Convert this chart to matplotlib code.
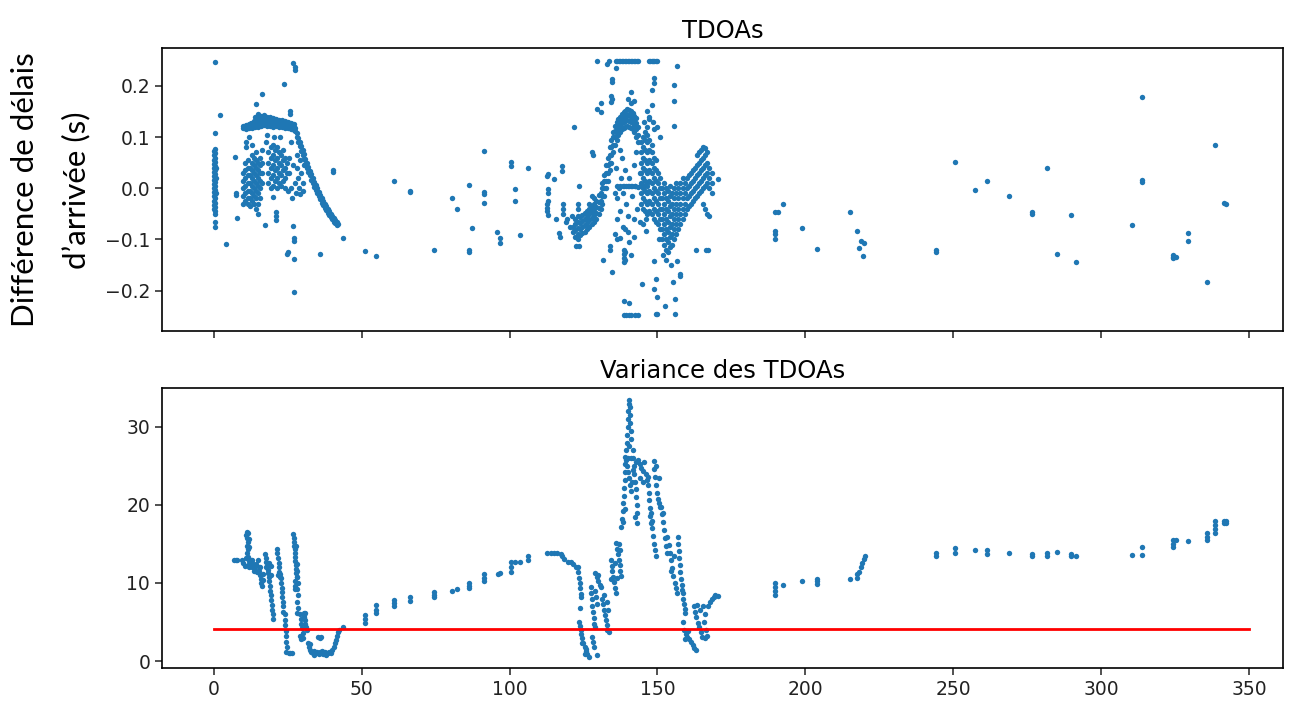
import matplotlib
matplotlib.use("Agg")
import matplotlib.pyplot as plt
import numpy as np

# ---------------- data ----------------
titles = ["TDOAs", "Variance des TDOAs"]
ylabel_top = "Différence de délais\nd’arrivée (s)"
x_ticks = [0, 50, 100, 150, 200, 250, 300, 350]
top_yticks = [-0.2, -0.1, 0.0, 0.1, 0.2]
bot_yticks = [0, 10, 20, 30]
threshold = 4.1
threshold_span = [0, 350]

# TDOA columns: (x, [y values])
tdoa_cols_a = [
    (0.4, [0.247, 0.107, 0.076, 0.068, 0.060, 0.052, 0.044, 0.036, 0.028, 0.020, 0.012, 0.004,
           -0.004, -0.012, -0.020, -0.028, -0.036, -0.044, -0.050, -0.066, -0.076]),
    (0.1, [0.072, 0.064, 0.056, 0.048, 0.040, 0.032, 0.024, 0.016, 0.008, 0.000, -0.008, -0.016,
           -0.024, -0.032, -0.040]),
    (0.8, [0.040, 0.020, -0.010]),
    (2.1, [0.143]), (4.1, [-0.109]), (7.2, [0.061]), (7.4, [-0.014, -0.010]), (8.0, [-0.059]),
    (10.0, [-0.030, -0.015, 0.000, 0.015, 0.030, 0.118, 0.122]),
    (10.5, [0.120]),
    (10.7, [-0.025, -0.010, 0.005, 0.020, 0.035, 0.050]),
    (11.0, [0.080, 0.090, 0.116, 0.124]),
    (11.4, [-0.030, -0.020, -0.005, 0.010, 0.025, 0.040, 0.055]),
    (11.5, [0.120]),
    (12.0, [0.100, 0.117, 0.125]),
    (12.1, [-0.035, -0.020, -0.005, 0.010, 0.025, 0.040]),
    (12.5, [0.120, 0.128]),
    (12.8, [-0.025, -0.010, 0.005, 0.020, 0.035, 0.050, 0.065]),
    (13.0, [0.085, 0.118, 0.127]),
    (13.5, [-0.030, -0.015, 0.000, 0.015, 0.030, 0.045, 0.060, 0.122, 0.131]),
    (14.0, [0.120, 0.130, 0.140]),
    (14.2, [-0.040, -0.020, -0.005, 0.010, 0.025, 0.040, 0.055, 0.070]),
    (14.3, [0.165]),
    (14.5, [0.125, 0.135]),
    (14.9, [-0.050, -0.030, -0.010, 0.005, 0.020, 0.035, 0.050]),
    (15.0, [0.120, 0.130, 0.145]),
    (15.5, [0.125, 0.138]),
    (15.6, [-0.020, 0.000, 0.015, 0.030, 0.045, 0.060]),
    (16.0, [0.122, 0.132, 0.142]),
    (16.2, [0.184]),
    (16.3, [0.010, 0.030, 0.050, 0.075]),
    (16.5, [0.127, 0.137]),
    (17.0, [0.123, 0.133, 0.143]),
    (17.3, [-0.072]),
    (17.5, [0.090, 0.128, 0.138]),
    (18.0, [0.105, 0.122, 0.132, 0.140]),
    (18.5, [0.010, 0.030, 0.050, 0.070, 0.127, 0.137]),
    (19.0, [0.121, 0.131, 0.139]),
    (19.2, [0.000, 0.020, 0.040, 0.060, 0.080]),
    (19.5, [0.126, 0.134]),
    (19.9, [0.005, 0.025, 0.045, 0.065, 0.085]),
    (20.0, [0.120, 0.130, 0.138]),
    (20.1, [-0.018]),
    (20.5, [0.100, 0.125, 0.133]),
    (20.6, [0.015, 0.035, 0.055, 0.075]),
    (21.0, [0.121, 0.129, 0.136]),
    (21.2, [-0.047, -0.055, -0.063]),
    (21.3, [0.000, 0.020, 0.040, 0.060, 0.080]),
    (21.5, [0.124, 0.132]),
    (22.0, [0.010, 0.030, 0.050, 0.070, 0.120, 0.128, 0.134]),
    (22.5, [0.100, 0.123, 0.131]),
    (22.7, [0.005, 0.025, 0.045, 0.065]),
    (23.0, [0.119, 0.127, 0.133]),
    (23.4, [0.015, 0.035, 0.055, 0.075]),
    (23.5, [0.122, 0.130]),
    (23.7, [0.204]),
    (24.0, [0.118, 0.126, 0.132]),
    (24.1, [0.000, 0.020, 0.040, 0.060]),
    (24.5, [0.121, 0.128]),
    (24.6, [-0.128]),
    (24.8, [0.030, 0.050]),
    (25.0, [-0.005, 0.117, 0.125, 0.130]),
    (25.2, [-0.125]),
    (25.3, [0.060]),
    (25.5, [0.030, 0.120, 0.127]),
    (25.7, [0.151, 0.146]),
    (26.0, [0.000, 0.090, 0.116, 0.123, 0.128]),
    (26.3, [-0.020]),
    (26.5, [0.119, 0.125]),
    (26.8, [0.045]),
    (26.9, [0.245, -0.074]),
    (27.0, [0.113, 0.120, 0.126]),
    (27.2, [-0.098, -0.103, -0.139, -0.203]),
    (27.4, [0.236]), (27.5, [0.232, 0.010, 0.111, 0.117]),
    (27.8, [-0.010]),
    (28.0, [0.108, 0.100]), (28.2, [0.040]), (28.3, [0.065]), (28.5, [0.098, 0.090, 0.020]),
    (28.8, [0.000]), (29.0, [0.090, 0.082, 0.055]), (29.2, [-0.012]), (29.5, [0.082, 0.072, 0.030]),
    (30.0, [0.075, 0.065, 0.010]), (30.3, [-0.005]), (30.5, [0.066, 0.057, 0.045]),
    (31.0, [0.058, 0.048]), (31.5, [0.050, 0.040]), (32.0, [0.042, 0.032]),
    (32.5, [0.034, 0.025]), (33.0, [0.027, 0.017]), (33.5, [0.020, 0.010]),
    (34.0, [0.013, 0.003]), (34.5, [0.006, -0.004]), (35.0, [0.000, -0.010]),
    (35.5, [-0.007, -0.016]), (35.8, [-0.129]), (36.0, [-0.013, -0.022]),
    (36.5, [-0.019, -0.028]), (37.0, [-0.025, -0.033]), (37.5, [-0.030, -0.038]),
    (38.0, [-0.035, -0.043]), (38.5, [-0.040, -0.048]), (39.0, [-0.045, -0.053]),
    (39.5, [-0.050, -0.057]), (40.0, [-0.054, -0.061]), (40.3, [0.035, 0.032]),
    (40.5, [-0.058, -0.065]), (41.0, [-0.062, -0.068]), (41.5, [-0.066, -0.071]),
    (42.0, [-0.070]), (43.7, [-0.098]),
]

tdoa_sparse_mid = [
    (51.0, [-0.123]), (54.7, [-0.132]), (60.9, [0.014]), (66.2, [-0.005, -0.008]),
    (74.3, [-0.120]), (80.6, [-0.019]), (82.2, [-0.040]), (86.4, [0.006, -0.120, -0.124]),
    (87.4, [-0.077]), (91.5, [0.073, -0.007, -0.012, -0.028]), (95.8, [-0.085]),
    (96.8, [-0.098, -0.107]), (100.5, [0.051, 0.044]), (102.0, [-0.001, -0.025]),
    (103.6, [-0.092]), (106.4, [0.039]),
]

tdoa_cols_b = [
    (112.8, [0.024, -0.030, -0.038, -0.045]), (113.0, [0.027, -0.002, -0.010, -0.024, -0.053]),
    (115.0, [0.018]), (115.6, [-0.061]), (116.8, [-0.087]), (117.0, [-0.095]),
    (117.9, [0.043, 0.034]), (118.0, [-0.030, -0.040, -0.050]), (119.0, [-0.065]),
    (119.5, [-0.060]), (120.5, [-0.075]), (121.0, [-0.055]),
    (121.5, [-0.085, -0.075]), (121.8, [0.120]),
    (122.2, [-0.095, -0.082, -0.070, -0.060]), (122.5, [-0.113]),
    (123.0, [-0.100, -0.090, -0.078, -0.066, -0.055, -0.030, -0.040]),
    (123.5, [0.005, -0.113]),
    (123.8, [-0.092, -0.080, -0.068, -0.056]),
    (124.6, [-0.088, -0.076, -0.064, -0.052]),
    (125.4, [-0.085, -0.072, -0.060, -0.048]),
    (126.2, [-0.080, -0.068, -0.056, -0.044]),
    (127.0, [-0.075, -0.063, -0.051, -0.040, -0.030]),
    (127.8, [-0.070, -0.058, -0.046, -0.034]),
    (128.0, [-0.015, 0.070]), (128.2, [0.065]),
    (128.6, [-0.065, -0.053, -0.041, -0.030, -0.020]),
    (129.4, [-0.060, -0.048, -0.036, -0.024]),
    (129.7, [0.248, 0.154]), (130.2, [-0.050, -0.038, -0.026, -0.014]),
    (130.8, [-0.040, -0.025, -0.010, 0.148, 0.167]),
    (131.4, [-0.030, -0.015, 0.000, 0.010]), (131.7, [-0.141]),
    (132.0, [-0.015, 0.000, 0.015, 0.025]), (132.6, [0.000, 0.015, 0.030, 0.045]),
    (132.8, [0.242]), (133.2, [0.015, 0.030, 0.045, 0.060]), (133.6, [0.248]),
    (133.8, [0.035, 0.050, 0.065, 0.080, -0.113, -0.120]),
    (134.2, [0.168, 0.180]),
    (134.4, [0.050, 0.065, 0.080, 0.095]),
    (134.8, [0.213, 0.208, 0.174, -0.164]),
    (135.0, [0.070, 0.085, 0.100, 0.110]),
    (135.5, [-0.010, -0.090]), (135.6, [0.085, 0.100, 0.112, 0.122]),
    (135.9, [0.248, 0.234]), (136.0, [0.040]),
    (136.2, [0.095, 0.108, 0.120, 0.130, -0.060]),
    (136.5, [0.248, -0.020, 0.004, -0.100]),
    (136.8, [0.105, 0.118, 0.128, 0.136]),
    (137.0, [0.248, 0.000]), (137.2, [-0.045]),
    (137.4, [0.110, 0.122, 0.132, 0.140]), (137.5, [0.248, 0.075, 0.004, -0.098]),
    (137.8, [0.020]), (138.0, [0.248, 0.115, 0.127, 0.137, 0.145, 0.060]),
    (138.4, [-0.010]), (138.5, [0.248, 0.004, -0.075]),
    (138.6, [0.118, 0.130, 0.140, 0.148]),
    (138.7, [-0.120, -0.128, -0.136, -0.145, -0.220, -0.248]),
    (138.8, [0.005]), (139.0, [0.248, -0.080]),
    (139.2, [0.120, 0.132, 0.142, 0.150, 0.035, -0.124, -0.140]),
    (139.5, [0.248, -0.030, 0.004, -0.248]),
    (139.8, [0.122, 0.134, 0.144, 0.155]),
    (140.0, [0.248, 0.175, 0.005, -0.055, -0.085]),
    (140.3, [-0.248]), (140.4, [0.120, 0.132, 0.143, 0.152, -0.106, -0.224]),
    (140.5, [0.248, 0.020, 0.004]),
    (141.0, [0.248, 0.118, 0.130, 0.140, 0.150, 0.167, 0.188, 0.004, -0.130]),
    (141.2, [-0.248]), (141.5, [0.248, -0.015, 0.004]),
    (141.6, [0.115, 0.127, 0.138, 0.147]),
    (142.0, [0.248, 0.170, 0.045, -0.060, -0.095]),
    (142.2, [0.110, 0.122, 0.133, 0.142]), (142.3, [0.005]),
    (142.5, [0.248, 0.004, -0.248]),
    (142.8, [0.100, 0.115, 0.128, 0.138, 0.070]),
    (143.0, [0.248, -0.040]), (143.3, [-0.248]),
    (143.4, [0.090, 0.105, 0.120]), (143.5, [0.003]), (143.6, [0.248]),
    (144.0, [0.030, -0.065]),
    (144.5, [-0.030, -0.010, 0.010, 0.030, 0.050, 0.070, 0.090, 0.004]),
    (144.9, [-0.188]), (145.0, [-0.070]),
    (145.2, [-0.040, -0.020, 0.000, 0.020, 0.040, 0.060, 0.080, 0.100]),
    (145.5, [0.130, 0.004]),
    (145.9, [-0.045, -0.025, -0.005, 0.015, 0.035, 0.055, 0.075, 0.095, 0.110]),
    (146.0, [-0.060]), (146.3, [-0.083]),
    (146.5, [0.004]),
    (146.6, [-0.050, -0.030, -0.010, 0.010, 0.030, 0.050, 0.070, 0.090, 0.105, 0.120, 0.150]),
    (147.0, [0.248, 0.140]), (147.2, [0.135]),
    (147.3, [-0.045, -0.025, -0.005, 0.015, 0.035, 0.055, 0.075, 0.095]),
    (147.5, [0.248]),
    (148.0, [0.248, -0.050, -0.030, -0.010, 0.010, 0.030, 0.050, 0.070, 0.085]),
    (148.2, [0.163, 0.192]), (148.5, [0.248, 0.130]),
    (148.7, [-0.060, -0.040, -0.020, 0.000, 0.020, 0.040, 0.060, 0.215, 0.205, -0.197, -0.142]),
    (149.0, [0.248, 0.115]),
    (149.4, [-0.065, -0.045, -0.025, -0.005, 0.015, 0.035, 0.055, -0.246, -0.178]),
    (149.5, [0.248]),
    (150.0, [0.248, 0.120, -0.246, -0.213]),
    (150.1, [-0.070, -0.050, -0.030, -0.010, 0.010, 0.030]),
    (150.5, [-0.100]),
    (150.8, [-0.080, -0.060, -0.040, -0.020, 0.000, 0.020]),
    (151.0, [0.100]),
    (151.5, [-0.100, -0.080, -0.060, -0.040, -0.020, 0.000]),
    (152.0, [-0.130]),
    (152.2, [-0.110, -0.090, -0.070, -0.050, -0.030, -0.010, 0.010]),
    (152.7, [-0.230]),
    (152.9, [-0.120, -0.100, -0.080, -0.060, -0.040, -0.020, 0.000]),
    (153.0, [-0.140]),
    (153.6, [-0.125, -0.105, -0.085, -0.065, -0.045, -0.025, -0.005]),
    (154.3, [-0.115, -0.095, -0.075, -0.055, -0.035, -0.015, 0.005]),
    (154.5, [-0.150]),
    (155.0, [-0.110, -0.090, -0.070, -0.050, -0.030, -0.010]),
    (155.4, [-0.184]), (155.5, [0.201, 0.171, 0.122]),
    (155.7, [-0.100, -0.080, -0.060, -0.040, -0.020, 0.000]),
    (156.0, [-0.217, -0.246]),
    (156.4, [-0.090, -0.070, -0.050, -0.030, -0.010, 0.010]),
    (156.7, [0.239, -0.142]),
    (157.1, [-0.080, -0.060, -0.040, -0.020, 0.000]),
    (157.8, [-0.070, -0.050, -0.030, -0.010, 0.010, -0.172, -0.168]),
    (158.5, [-0.060, -0.040, -0.020, 0.000, 0.020]),
    (159.2, [-0.050, -0.030, -0.010, 0.010]),
    (159.9, [-0.040, -0.020, 0.000, 0.020]),
    (160.6, [-0.035, -0.015, 0.005, 0.025]),
    (161.3, [-0.030, -0.010, 0.010, 0.030]),
    (162.0, [-0.025, -0.005, 0.015, 0.035]),
    (162.7, [-0.020, 0.000, 0.020, 0.040]),
    (163.0, [-0.120]),
    (163.4, [-0.015, 0.005, 0.025, 0.045, 0.065]),
    (164.1, [-0.010, 0.010, 0.030, 0.050, 0.070]),
    (164.8, [-0.005, 0.015, 0.035, 0.055, 0.075]),
    (165.5, [-0.030, 0.000, 0.020, 0.040, 0.060, 0.080]),
    (166.2, [-0.040, 0.005, 0.025, 0.045, 0.065, 0.078]),
    (166.5, [-0.120]),
    (166.9, [-0.050, 0.010, 0.030, 0.050, 0.070]),
    (167.0, [-0.120]),
    (167.6, [-0.055, 0.000, 0.020, 0.040]),
    (168.3, [-0.010, 0.010, 0.030]),
    (170.5, [0.018]),
]

tdoa_sparse_right = [
    (189.9, [-0.046, -0.084, -0.090, -0.099]), (190.7, [-0.046]), (192.6, [-0.031]),
    (199.0, [-0.077]), (204.1, [-0.119]), (215.2, [-0.046]), (217.5, [-0.083]),
    (218.3, [-0.117]), (219.0, [-0.104]), (219.4, [-0.132]), (220.0, [-0.107]),
    (244.3, [-0.120, -0.124]), (250.6, [0.051]), (257.4, [-0.004]), (261.6, [0.014]),
    (269.0, [-0.016]), (276.8, [-0.051, -0.047]), (281.6, [0.039]), (285.2, [-0.129]),
    (290.0, [-0.053]), (291.5, [-0.144]), (310.5, [-0.071]),
    (313.7, [0.179, 0.016, 0.013]), (324.3, [-0.134, -0.137, -0.131]), (325.3, [-0.134]),
    (329.4, [-0.087, -0.104]), (335.8, [-0.184]), (338.4, [0.085]),
    (341.5, [-0.028]), (342.1, [-0.031]),
]

# Variance columns: (x, [y values])
var_cols_a = [
    (7.0, [12.95]), (7.5, [12.95]), (8.0, [13.0]),
    (9.5, [13.0]), (10.0, [12.6]), (10.5, [12.2]), (11.0, [13.2, 16.2]),
    (11.2, [15.8, 14.8]), (11.3, [16.6, 13.8]), (11.4, [15.3, 12.3]), (11.5, [16.4, 14.3]),
    (11.6, [13.3]), (11.8, [12.8, 15.6]), (12.0, [12.0, 14.6]),
    (12.5, [12.9]), (12.8, [12.0]), (13.0, [12.6, 13.0]), (13.3, [12.3]), (13.5, [11.6]),
    (13.7, [12.0]), (14.1, [11.7]), (14.2, [12.4]), (14.5, [11.4]), (14.8, [12.9]),
    (15.2, [12.0]), (15.4, [11.5]), (15.5, [12.1]), (15.6, [11.0]), (15.8, [10.5]),
    (16.0, [10.0]), (16.2, [9.6]), (16.5, [11.2]), (16.7, [10.4]),
    (17.4, [13.7]), (17.5, [12.0]), (17.6, [13.2]), (17.8, [12.7]), (18.0, [12.2]),
    (18.2, [11.7]), (18.3, [11.3]), (18.6, [10.8]), (18.8, [10.2, 12.5]), (19.0, [9.6]),
    (19.1, [9.0]), (19.2, [11.0]), (19.3, [8.4]), (19.4, [7.8]), (19.5, [12.2]),
    (19.6, [7.2]), (19.7, [6.6]), (19.9, [6.0]), (20.0, [5.4]),
    (21.3, [14.4]), (21.5, [13.8]), (21.7, [13.2]), (21.8, [11.0]), (21.9, [12.6]),
    (22.1, [12.0]), (22.2, [11.4]), (22.3, [10.8]), (22.5, [11.2]), (22.7, [10.6]),
    (22.8, [10.0]), (23.0, [9.4]), (23.1, [8.8]), (23.2, [8.2]), (23.3, [7.6]),
    (23.4, [7.0]), (23.5, [6.3]),
    (24.0, [6.0]), (24.1, [5.3]), (24.2, [4.6]), (24.3, [3.9]), (24.4, [3.2]),
    (24.5, [2.5, 1.2]), (24.6, [1.8]), (25.3, [1.0]), (25.8, [1.0]), (26.3, [1.0]),
    (26.9, [16.3]), (27.0, [15.8]), (27.1, [15.3]), (27.2, [14.8]), (27.3, [14.3, 9.2]),
    (27.4, [13.8]), (27.5, [13.3, 9.6]), (27.6, [12.8, 10.2]), (27.7, [12.3]),
    (27.8, [11.8, 14.8]), (27.9, [11.3]), (28.0, [10.8]),
    (28.2, [12.4, 10.8, 7.6]), (28.3, [11.6, 9.2, 6.2]), (28.4, [10.0, 8.4, 6.8]),
    (29.2, [6.0]), (29.3, [3.2]), (29.4, [5.4]), (29.5, [2.8]), (29.6, [4.8]),
    (29.8, [4.2]), (30.0, [3.6]), (30.1, [3.0]),
    (30.4, [5.9]), (30.5, [6.1]), (30.6, [5.6]), (30.8, [5.2]), (31.0, [4.8, 6.2]),
    (31.2, [4.4]), (31.4, [4.0]),
    (31.9, [2.3]), (32.3, [1.8]), (32.5, [2.2]), (32.6, [1.4]), (33.0, [1.2]),
    (33.5, [1.0]), (33.8, [0.8]), (34.0, [1.3]), (34.5, [1.0]), (35.0, [1.2]),
    (35.4, [3.1]), (35.5, [0.9]), (36.0, [1.1, 3.0]), (36.4, [3.1]), (36.5, [1.3]),
    (37.0, [0.9]), (37.5, [1.2]), (38.0, [0.8]), (38.5, [1.0]), (39.0, [1.2]),
    (39.5, [1.0]), (40.0, [1.4]), (40.5, [1.8]), (40.9, [2.3]),
    (41.2, [2.7]), (41.6, [3.2]), (42.0, [3.7]), (42.5, [4.0]), (43.7, [4.4]),
]

var_sparse_mid = [
    (51.0, [5.9, 5.4, 4.9]), (54.7, [7.2, 6.6, 6.1]), (60.9, [7.8, 7.4, 7.05]),
    (66.2, [8.2, 7.7]), (74.3, [8.9, 8.5, 8.2]), (80.6, [9.0]), (82.2, [9.2]),
    (86.4, [10.0, 9.6, 9.3]), (91.5, [11.2, 10.7, 10.2]), (96.0, [11.2]), (96.8, [11.3]),
    (100.5, [12.7, 12.1, 11.45]), (102.0, [12.7]), (103.6, [12.7]),
    (106.4, [13.4, 12.9]),
]

var_cols_b = [
    (112.8, [13.9]), (114.0, [13.9]), (115.2, [13.85]), (116.0, [13.8]), (117.3, [13.7]),
    (117.9, [13.4]), (118.5, [13.1]), (119.6, [12.7]), (120.7, [12.7]), (121.5, [12.4]),
    (122.4, [12.1]), (123.0, [12.1]), (123.3, [11.4]), (123.5, [10.7]), (123.7, [10.0, 6.75, 4.5]),
    (123.9, [9.3]), (124.0, [8.6, 8.2, 4.0]), (123.4, [5.0]), (124.3, [3.5]),
    (124.6, [3.0, 2.3]), (125.0, [2.3]), (125.4, [1.8]), (125.5, [0.9]), (125.8, [1.3]),
    (126.0, [1.5]), (126.2, [0.9]), (126.8, [0.5]),
    (127.4, [9.5]), (127.6, [8.7]), (127.8, [7.9]), (128.0, [7.1, 3.1]), (128.2, [6.3, 2.5]),
    (128.4, [5.5]), (128.5, [1.8]), (128.6, [4.8]), (128.8, [9.0]), (129.0, [4.4, 11.3]),
    (129.2, [8.2]), (129.5, [7.3, 10.8]), (129.7, [0.8]), (129.8, [11.0]),
    (130.0, [10.3]), (130.5, [9.8]), (130.8, [9.5]),
    (131.3, [8.0]), (131.6, [7.3]), (131.9, [6.6]), (132.0, [8.4]), (132.2, [5.9]),
    (132.5, [5.2]), (132.8, [4.6]), (133.0, [7.5]), (133.1, [4.0]), (133.3, [6.5]),
    (133.5, [3.7]),
    (134.2, [12.9]), (134.4, [10.5]), (134.5, [12.2]), (134.8, [11.5]), (135.1, [10.8]),
    (135.4, [10.1]), (135.5, [12.5]), (135.7, [9.4]), (135.9, [8.7]),
    (136.0, [15.1]), (136.3, [14.4]), (136.5, [10.6]), (136.6, [13.7]), (136.9, [13.0]),
    (137.0, [15.0]), (137.2, [12.3]), (137.4, [14.2]), (137.5, [11.6]), (137.6, [10.9]),
    (137.8, [17.2]), (138.0, [18.2]), (138.2, [19.2]), (138.3, [17.8]), (138.4, [20.2]),
    (138.6, [21.2]), (138.8, [22.2]), (138.9, [19.5]), (139.0, [23.2]), (139.1, [24.2]),
    (139.2, [25.2, 26.2]), (139.4, [27.0]), (139.5, [25.8]), (139.6, [28.0]),
    (139.8, [29.0, 25.0]), (140.0, [30.0]), (140.1, [31.0, 24.2]), (140.2, [32.0, 26.0]),
    (140.3, [33.0]), (140.4, [23.4]), (140.5, [33.5, 27.5]), (140.6, [32.5]),
    (140.7, [31.5, 22.6]), (140.8, [30.5]), (140.9, [29.5, 28.5]), (141.0, [21.8, 26.0]),
    (141.3, [23.0]), (141.6, [24.5, 27.0]), (141.8, [26.0]), (142.0, [25.0]),
    (142.2, [24.0]), (142.3, [18.5]), (142.4, [23.0]), (142.6, [22.0]), (142.8, [21.0, 25.5]),
    (143.0, [20.0]), (143.1, [19.0]), (143.2, [17.7]),
    (143.5, [25.8]), (144.0, [25.3]), (144.2, [23.5]), (144.5, [24.8]), (145.0, [24.3]),
    (145.2, [23.0]), (145.5, [25.5]), (146.0, [24.0]), (146.5, [23.2]),
    (146.7, [23.6]), (146.9, [22.6]), (147.1, [21.6]), (147.3, [20.6]), (147.5, [19.6]),
    (147.6, [18.6]), (147.7, [17.7]), (147.8, [19.0]), (148.0, [18.0]), (148.3, [17.0]),
    (148.5, [16.0]), (148.7, [25.6]), (148.8, [15.0]), (149.0, [24.6]), (149.1, [14.2]),
    (149.3, [23.6]), (149.4, [13.4]), (149.5, [25.0]), (149.6, [22.6]), (149.9, [21.6]),
    (150.2, [20.8]), (150.4, [23.5]), (150.6, [20.2]), (151.0, [19.8]),
    (151.2, [19.8]), (151.5, [18.8]), (151.8, [17.8]), (152.0, [19.0]), (152.1, [16.8]),
    (152.4, [15.8]), (152.8, [14.8]), (153.2, [13.8]),
    (153.4, [15.9]), (153.8, [14.9]), (154.2, [13.9]), (154.5, [11.5]), (154.6, [12.9]),
    (155.0, [11.9]), (155.4, [10.9]), (155.5, [13.5]), (155.8, [10.0]), (156.2, [9.3]),
    (156.7, [8.7]), (156.8, [15.9]), (157.0, [15.0]), (157.2, [14.1]), (157.4, [13.2]),
    (157.6, [12.3]), (157.8, [11.4]), (158.0, [10.5]), (158.2, [9.7]), (158.4, [9.1]),
    (158.5, [5.0]), (158.6, [8.7]), (158.8, [8.0]), (158.9, [4.0]), (159.0, [7.3]),
    (159.2, [6.7, 2.8]), (159.4, [6.1]), (159.5, [3.5]), (160.1, [3.1]), (160.5, [3.8]),
    (160.7, [2.8]), (161.3, [2.4]), (161.9, [2.0]), (162.2, [7.0]), (162.5, [1.7]),
    (162.7, [6.3]), (163.1, [1.4]), (163.2, [5.6]), (163.5, [7.2]), (163.7, [4.9]),
    (164.2, [4.3]), (164.5, [6.5]), (164.7, [3.7]), (165.2, [3.1]), (165.5, [7.0]),
    (165.7, [5.0]), (166.0, [3.0]), (166.2, [6.0]), (166.5, [4.0]), (166.8, [3.2]),
    (167.2, [7.0]), (167.8, [7.5]), (168.4, [7.9]), (169.0, [8.2]), (169.6, [8.5]),
    (170.5, [8.3]),
]

var_sparse_right = [
    (189.9, [10.0, 9.5, 9.0, 8.5]), (192.6, [9.8]), (199.0, [10.2]),
    (204.1, [10.5, 10.2, 9.9]), (215.2, [10.55]), (217.5, [11.2, 10.7]),
    (218.3, [11.4]), (218.8, [12.0]), (219.3, [12.6]), (219.8, [13.1]), (220.2, [13.4]),
    (244.3, [13.8, 13.4]), (250.6, [14.45, 13.9]), (257.4, [14.2]), (261.6, [14.2, 13.7]),
    (269.0, [13.8]), (276.8, [13.7, 13.4]), (281.6, [13.8, 13.4]), (285.2, [14.0]),
    (290.0, [13.7, 13.4]), (291.5, [13.5]), (310.5, [13.6]), (313.7, [14.65, 13.6]),
    (324.3, [15.5, 15.0, 14.65]), (325.3, [15.5]), (329.4, [15.4]),
    (335.8, [16.4, 15.9, 15.5]), (338.4, [18.0, 17.4, 16.9, 16.45]),
    (341.5, [18.0, 17.7]), (342.4, [18.0, 17.7]),
]


def flatten(*groups):
    xs, ys = [], []
    for g in groups:
        for x, vals in g:
            for v in vals:
                xs.append(x)
                ys.append(v)
    return np.array(xs), np.array(ys)


tx, ty = flatten(tdoa_cols_a, tdoa_sparse_mid, tdoa_cols_b, tdoa_sparse_right)
vx, vy = flatten(var_cols_a, var_sparse_mid, var_cols_b, var_sparse_right)

# ---------------- plotting ----------------
plt.rcParams['font.family'] = ['DejaVu Sans']
plt.rcParams['axes.linewidth'] = 1.2

fig = plt.figure(figsize=(12.89, 7.04), dpi=100)
ax1 = fig.add_axes([0.1257, 0.5298, 0.8696, 0.4020])
ax2 = fig.add_axes([0.1257, 0.0511, 0.8696, 0.3978], sharex=ax1)

blue = '#1f77b4'
ax1.scatter(tx, ty, s=15, color=blue, linewidths=0)
ax2.scatter(vx, vy, s=15, color=blue, linewidths=0)
ax2.plot(threshold_span, [threshold, threshold], color='red', lw=2.0)

ax1.set_title(titles[0], fontsize=17.5, pad=7)
ax2.set_title(titles[1], fontsize=17.5, pad=7)

ax1.set_xlim(-17.5, 361.5)
ax1.set_ylim(-0.279, 0.274)
ax2.set_ylim(-0.9, 35.0)
ax1.set_xticks(x_ticks)
ax1.set_yticks(top_yticks)
ax2.set_yticks(bot_yticks)
plt.setp(ax1.get_xticklabels(), visible=False)
for ax in (ax1, ax2):
    ax.tick_params(length=5, width=1.1, labelsize=13.5, colors='#222222', labelcolor='#222222')

fig.text(0.0395, 0.73, ylabel_top, rotation=90, ha='center', va='center',
         multialignment='center', fontsize=22.5, family=['Lato', 'DejaVu Sans'],
         linespacing=1.95)

fig.savefig('out.png', dpi=100)
